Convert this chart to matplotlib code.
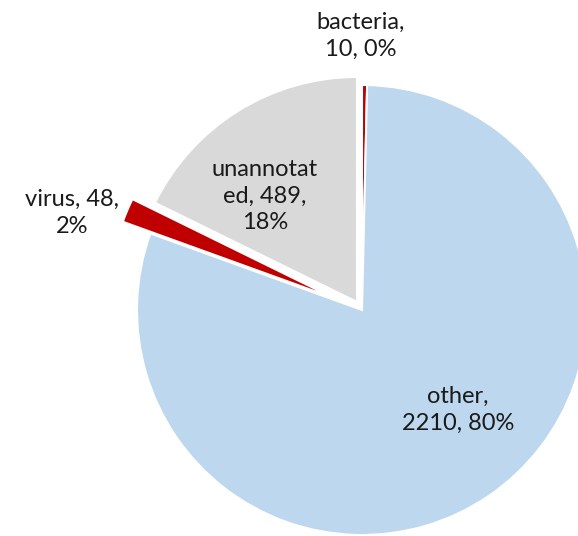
import matplotlib.pyplot as plt

# data
categories = ['bacteria', 'other', 'virus', 'unannotated']
counts = [10, 2210, 48, 489]
# the label text wraps inside the box like in the original
label_names = ['bacteria', 'other', 'virus', 'unannotat\ned']
colors = ['#C00000', '#BDD7EE', '#C00000', '#D9D9D9']

plt.rcParams['font.family'] = ['Lato', 'DejaVu Sans']

W, H = 578, 536
fig = plt.figure(figsize=(W / 100, H / 100), dpi=100)
ax = fig.add_axes([0, 0, 1, 1])

cx, cy, r = 362, H - 310, 225
# explode is in data units (pixels here), not a fraction of radius
explode = [0, 0, 30, 9.5]
ax.pie(counts, colors=colors, explode=explode, startangle=90,
       counterclock=False, radius=r, center=(cx, cy), frame=True,
       wedgeprops=dict(edgecolor='white', linewidth=1.5))
ax.set_xlim(0, W)
ax.set_ylim(0, H)
ax.set_aspect('equal')
ax.axis('off')

total = sum(counts)
# text positions in pixel coords (x, y from top)
label_pos = [(361, 36), (458, 410), (72, 213), (265, 196)]
for name, n, (px, py) in zip(label_names, counts, label_pos):
    pct = round(100 * n / total)
    if name in ('bacteria', 'other'):
        txt = f'{name},\n{n}, {pct}%'
    else:
        txt = f'{name}, {n},\n{pct}%'
    ax.text(px, H - py, txt, ha='center', va='center', fontsize=17,
            color='#1a1a1a', linespacing=1.35)

fig.savefig('out.png', dpi=100)
